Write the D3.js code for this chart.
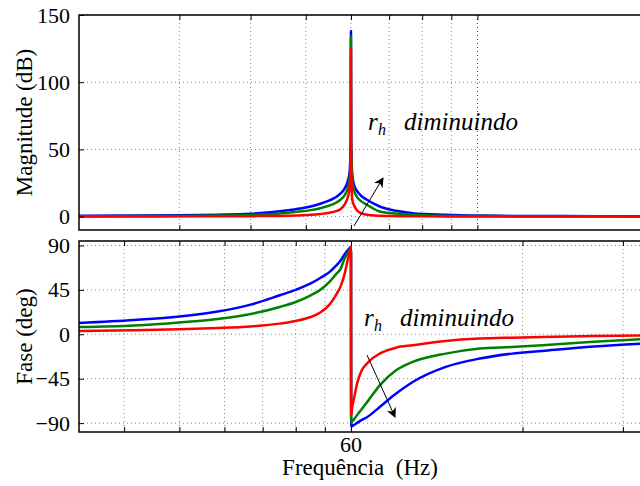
<!DOCTYPE html>
<html>
<head>
<meta charset="utf-8">
<script src="https://cdn.jsdelivr.net/npm/d3@7"></script>
<style>
body{margin:0;background:#fff;}
svg{display:block;}
</style>
</head>
<body>
<div id="chart"></div>
<script>
// frequency points (Hz), shared by all curves
const freqHz = [20, 25, 30, 35, 40, 45, 48, 51, 53, 55, 56.5, 57.5, 58.5, 59.2, 59.7, 59.95, 60, 60.05, 60.3, 60.8, 61.5, 62.5, 64, 67.4, 72, 77, 88, 101, 115, 130, 160, 200];

// magnitude (dB)
const magBlue  = [0.6, 0.8, 1.0, 1.4, 2.1, 3.9, 5.5, 7.5, 9.5, 12, 14.5, 17, 21, 26, 34, 60, 138, 60, 32, 23, 19, 15.5, 12.5, 7.5, 4.3, 2.5, 1.3, 0.7, 0.5, 0.4, 0.3, 0.2];
const magGreen = [0.3, 0.4, 0.5, 0.8, 1.2, 2.3, 3.5, 4.8, 6.2, 8.2, 10.3, 12.5, 16, 21, 29, 55, 134, 55, 28, 19, 14.5, 11.5, 8.8, 3.8, 2.2, 1.3, 0.5, 0.4, 0.3, 0.2, 0.15, 0.1];
const magRed   = [0.1, 0.1, 0.15, 0.2, 0.3, 0.5, 0.8, 1.3, 1.9, 2.8, 4.0, 5.5, 9, 14, 22, 45, 125, 45, 13, 8, 4.5, 2.5, 1.3, 0.6, 0.3, 0.2, 0.1, 0.05, 0, 0, 0, 0];

// phase (deg)
const phaseBlue  = [11.5, 14.5, 18, 23, 30, 39.5, 45, 51.5, 57, 63, 69.5, 74.5, 81, 85, 87.5, 88.5, 88.5, -93.5, -93, -91.7, -89.8, -87.2, -84, -73.6, -60, -48.3, -33, -24.6, -19.6, -16.9, -12.5, -9];
const phaseGreen = [7.4, 9, 12, 15.5, 20.5, 27.7, 32.7, 39.5, 45, 53, 61, 66, 77, 82, 86, 88, 88.5, -90, -88.5, -85.9, -81.9, -76.6, -69, -51.7, -36.5, -28, -19.6, -14.5, -12.9, -11.1, -7.5, -4.5];
const phaseRed   = [3.3, 4, 5, 6.3, 8, 10.8, 13.5, 17.5, 22, 30, 40, 48, 61.5, 75, 84, 88, 88.5, -82, -74, -64, -50, -38, -29.7, -19.6, -13.5, -11.1, -6.8, -4.4, -3.4, -2.7, -1.8, -1.2];

const seriesColors = ["#0000ff", "#008000", "#ff0000"];

const magTicks = [0, 50, 100, 150];
const phaseTicks = [-90, -45, 0, 45, 90];
const magGridFreq = [30, 40, 50, 60, 70, 80, 90, 100];
const phaseGridFreq = [24, 30, 36, 42, 48, 54, 60, 120, 180];
const freqTickLabels = [60];

const W = 640, H = 486;
const FONT = "'Liberation Serif'";
const svg = d3.select("#chart").append("svg").attr("width", W).attr("height", H);

const x = d3.scaleLog().domain([20, 200]).range([79, 649]);
const yMag = d3.scaleLinear().domain([-10, 150]).range([230, 15]);
const yPh = d3.scaleLinear().domain([-99, 94.5]).range([432, 241]);

const defs = svg.append("defs");
defs.append("marker")
  .attr("id", "arrow")
  .attr("viewBox", "0 0 10 10")
  .attr("refX", 9).attr("refY", 5)
  .attr("markerWidth", 10).attr("markerHeight", 10)
  .attr("markerUnits", "userSpaceOnUse")
  .attr("orient", "auto")
  .append("path").attr("d", "M0,0 L10,5 L0,10 L3,5 Z").attr("fill", "#000");

function makePanel(id, y, yTicks, gridFreq, series, yLabel) {
  const x0 = x.range()[0], x1 = x.range()[1];
  const yTop = y.range()[1], yBot = y.range()[0];
  const g = svg.append("g");

  defs.append("clipPath").attr("id", "clip" + id)
    .append("rect").attr("x", x0).attr("y", yTop).attr("width", x1 - x0).attr("height", yBot - yTop);

  // grid
  g.selectAll(".vg").data(gridFreq).enter().append("line")
    .attr("x1", d => x(d)).attr("x2", d => x(d))
    .attr("y1", yTop).attr("y2", yBot)
    .attr("stroke", d => d == 100 ? "#333" : "#888").attr("stroke-width", 1)
    .attr("stroke-dasharray", "1,3");
  g.selectAll(".hg").data(yTicks).enter().append("line")
    .attr("x1", x0).attr("x2", x1)
    .attr("y1", d => y(d)).attr("y2", d => y(d))
    .attr("stroke", "#888").attr("stroke-width", 1)
    .attr("stroke-dasharray", "1,3");

  // curves
  const line = d3.line().x((d, i) => x(freqHz[i])).y(d => y(d)).curve(d3.curveMonotoneX);
  const cg = g.append("g").attr("clip-path", `url(#clip${id})`);
  series.forEach((s, k) => {
    cg.append("path").datum(s)
      .attr("d", line)
      .attr("fill", "none")
      .attr("stroke", seriesColors[k])
      .attr("stroke-width", 2.5)
      .attr("stroke-linejoin", "round");
  });

  // box
  g.append("rect").attr("x", x0).attr("y", yTop).attr("width", x1 - x0).attr("height", yBot - yTop)
    .attr("fill", "none").attr("stroke", "#000").attr("stroke-width", 1.5);

  // ticks (inside)
  const axL = d3.axisLeft(y).tickValues(yTicks).tickSize(-5).tickPadding(9)
    .tickFormat(d => d < 0 ? "\u2212" + Math.abs(d) : d);
  const gl = g.append("g").attr("transform", `translate(${x0},0)`).call(axL)
    .attr("font-family", null).attr("font-size", null);
  gl.select(".domain").remove();
  gl.selectAll("line").attr("stroke", "#000");
  gl.selectAll("text").attr("fill", "#000").style("font-size", "22px");

  const axB = d3.axisBottom(x).tickValues(gridFreq).tickSize(-5).tickFormat("");
  const gb = g.append("g").attr("transform", `translate(0,${yBot})`).call(axB);
  gb.select(".domain").remove();
  gb.selectAll("line").attr("stroke", "#000");
  const axT = d3.axisTop(x).tickValues(gridFreq).tickSize(-5).tickFormat("");
  const gt = g.append("g").attr("transform", `translate(0,${yTop})`).call(axT);
  gt.select(".domain").remove();
  gt.selectAll("line").attr("stroke", "#000");

  svg.append("text")
    .attr("transform", `translate(32,${(yTop + yBot) / 2}) rotate(-90)`)
    .attr("text-anchor", "middle")
    .style("font-size", "23px")
    .text(yLabel);
  return g;
}

makePanel("mag", yMag, magTicks, magGridFreq, [magBlue, magGreen, magRed], "Magnitude (dB)");
makePanel("ph", yPh, phaseTicks, phaseGridFreq, [phaseBlue, phaseGreen, phaseRed], "Fase (deg)");

// x tick label + title
svg.selectAll(".xl").data(freqTickLabels).enter().append("text")
  .attr("x", d => x(d)).attr("y", 452)
  .attr("text-anchor", "middle").style("font-size", "22px")
  .text(d => d);
svg.append("text").attr("x", 360).attr("y", 475)
  .attr("text-anchor", "middle").style("font-size", "23px")
  .style("white-space", "pre")
  .text("Frequência  (Hz)");

// annotations
function note(xp, yp) {
  const t = svg.append("g");
  t.append("text").attr("x", xp).attr("y", yp).style("font-size", "25px").style("font-style", "italic").text("r");
  t.append("text").attr("x", xp + 10).attr("y", yp + 5).style("font-size", "16px").style("font-style", "italic").text("h");
  t.append("text").attr("x", xp + 36).attr("y", yp).style("font-size", "25px").style("font-style", "italic").text("diminuindo");
}
note(368, 130);
note(364, 326);

svg.append("line").attr("x1", 354).attr("y1", 226).attr("x2", 383).attr("y2", 178)
  .attr("stroke", "#000").attr("stroke-width", 1).attr("marker-end", "url(#arrow)");
svg.append("line").attr("x1", 367).attr("y1", 355).attr("x2", 395).attr("y2", 417)
  .attr("stroke", "#000").attr("stroke-width", 1).attr("marker-end", "url(#arrow)");

// serif font on every text, inline so it wins over the axis attribute
svg.selectAll("text").style("font-family", FONT);
</script>
</body>
</html>
